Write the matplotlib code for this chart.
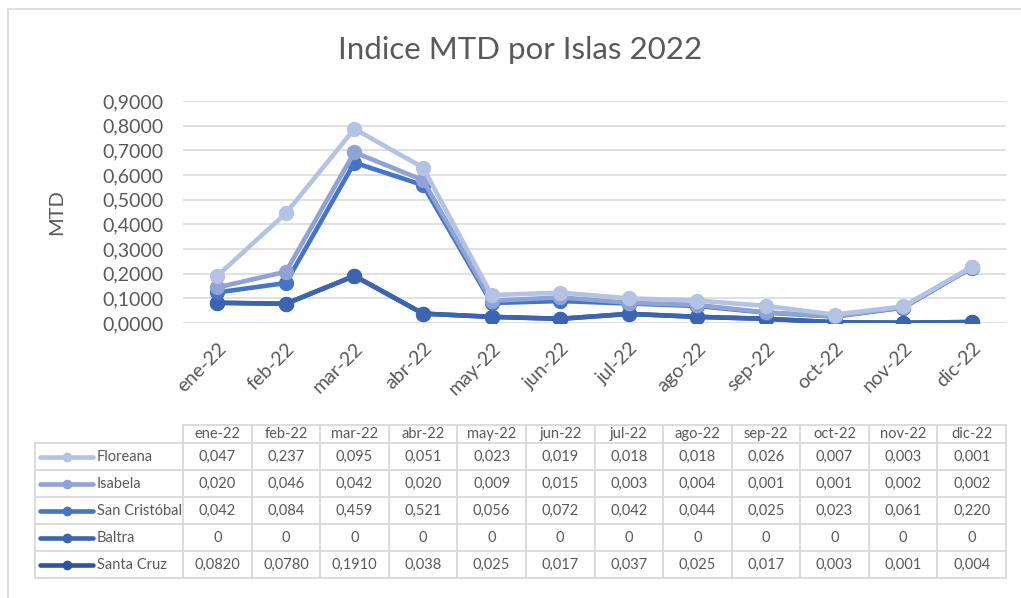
#!/usr/bin/env python3
"""Indice MTD por Islas 2022 - stacked line chart with data table."""

import numpy as np
import matplotlib
matplotlib.use("Agg")
import matplotlib.pyplot as plt
from matplotlib.patches import Rectangle

MONTHS = ["ene-22", "feb-22", "mar-22", "abr-22", "may-22", "jun-22",
          "jul-22", "ago-22", "sep-22", "oct-22", "nov-22", "dic-22"]
ISLANDS = ["Floreana", "Isabela", "San Cristóbal", "Baltra", "Santa Cruz"]
FLOREANA = ["0,047", "0,237", "0,095", "0,051", "0,023", "0,019",
            "0,018", "0,018", "0,026", "0,007", "0,003", "0,001"]
ISABELA = ["0,020", "0,046", "0,042", "0,020", "0,009", "0,015",
           "0,003", "0,004", "0,001", "0,001", "0,002", "0,002"]
SAN_CRISTOBAL = ["0,042", "0,084", "0,459", "0,521", "0,056", "0,072",
                 "0,042", "0,044", "0,025", "0,023", "0,061", "0,220"]
BALTRA = ["0"] * 12
SANTA_CRUZ = ["0,0820", "0,0780", "0,1910", "0,038", "0,025", "0,017",
              "0,037", "0,025", "0,017", "0,003", "0,001", "0,004"]
COLORS = ["#B4C2E4", "#8FA3D6", "#4674C6", "#3B65B0", "#2F5597"]

TEXT = "#595959"
GRID = "#D9D9D9"
W, H = 1021, 598


def to_num(row):
  return np.array([float(v.replace(",", ".")) for v in row])


def fx(px):
  return px / W


def fy(py):
  return 1 - py / H


def main() -> None:
  plt.rcParams.update({"font.family": ["Lato", "DejaVu Sans"]})
  fig = plt.figure(figsize=(W / 100, H / 100), dpi=100)

  rows = [FLOREANA, ISABELA, SAN_CRISTOBAL, BALTRA, SANTA_CRUZ]
  values = [to_num(r) for r in rows]

  # chart border
  fig.patches.append(Rectangle((fx(8), -0.1), 1.2, fy(9) + 0.1,
                               transform=fig.transFigure, fill=False,
                               edgecolor=GRID, linewidth=1.2))

  x = np.arange(len(MONTHS))
  ax = fig.add_axes([fx(183), fy(323), fx(1006) - fx(183), fy(101) - fy(323)])
  # stacked: Santa Cruz at the bottom, Floreana on top
  cum = np.zeros(len(MONTHS))
  for i in reversed(range(len(ISLANDS))):
    cum = cum + values[i]
    ax.plot(x, cum, color=COLORS[i], linewidth=3.3, marker="o",
            markersize=10, solid_capstyle="round", zorder=3 + (4 - i))
  ax.set_xlim(-0.5, len(MONTHS) - 0.5)
  ax.set_ylim(0, 0.9)
  yt = np.arange(0, 0.91, 0.1)
  ax.set_yticks(yt)
  ax.set_yticklabels([f"{v:.4f}".replace(".", ",") for v in yt],
                     fontsize=14, color=TEXT)
  ax.set_xticks(x)
  ax.set_xticklabels(MONTHS, rotation=45, ha="right", rotation_mode="anchor",
                     fontsize=14, color=TEXT)
  ax.tick_params(axis="y", length=0, pad=14)
  ax.tick_params(axis="x", length=0, pad=12)
  ax.grid(axis="y", color=GRID, linewidth=1.1)
  ax.set_axisbelow(True)
  for s in ax.spines.values():
    s.set_visible(False)
  fig.text(fx(57), fy(212), "MTD", rotation=90, ha="center", va="center",
           fontsize=14.5, color=TEXT)
  fig.text(fx(520), fy(50), "Indice MTD por Islas 2022", ha="center",
           va="center", fontsize=22.5, color=TEXT)

  # data table
  cw = (1006 - 183) / len(MONTHS)
  left = -0.5 - (183 - 35) / cw
  tax = fig.add_axes([fx(35), fy(578), fx(1006) - fx(35), fy(425) - fy(578)])
  head = 18 / 26.6
  tax.set_xlim(left, len(MONTHS) - 0.5)
  tax.set_ylim(len(ISLANDS), -head)
  tax.axis("off")
  lw = 1.3
  tax.plot([-0.5, len(MONTHS) - 0.5], [-head, -head], color=GRID, lw=lw,
           clip_on=False)
  for r in range(len(ISLANDS) + 1):
    tax.plot([left, len(MONTHS) - 0.5], [r, r], color=GRID, lw=lw,
             clip_on=False)
  tax.plot([left, left], [0, len(ISLANDS)], color=GRID, lw=lw, clip_on=False)
  for c in range(len(MONTHS) + 1):
    tax.plot([c - 0.5, c - 0.5], [-head, len(ISLANDS)], color=GRID, lw=lw,
             clip_on=False)
  for c, m in enumerate(MONTHS):
    tax.text(c, -head / 2, m, ha="center", va="center", fontsize=10.5,
             color=TEXT)
  for r, (name, row) in enumerate(zip(ISLANDS, rows)):
    y = r + 0.5
    for c, v in enumerate(row):
      tax.text(c, y, v, ha="center", va="center", fontsize=10.5, color=TEXT)
    k0 = left + (40 - 35) / cw
    k1 = left + (93 - 35) / cw
    tax.plot([k0, k1], [y, y], color=COLORS[r], lw=3.3,
             solid_capstyle="round", clip_on=False)
    tax.plot([(k0 + k1) / 2], [y], marker="o", markersize=6, color=COLORS[r],
             clip_on=False)
    tax.text(left + (97 - 35) / cw, y, name, ha="left", va="center",
             fontsize=10.5, color=TEXT)

  fig.savefig("out.png", dpi=100)


if __name__ == "__main__":
  main()
